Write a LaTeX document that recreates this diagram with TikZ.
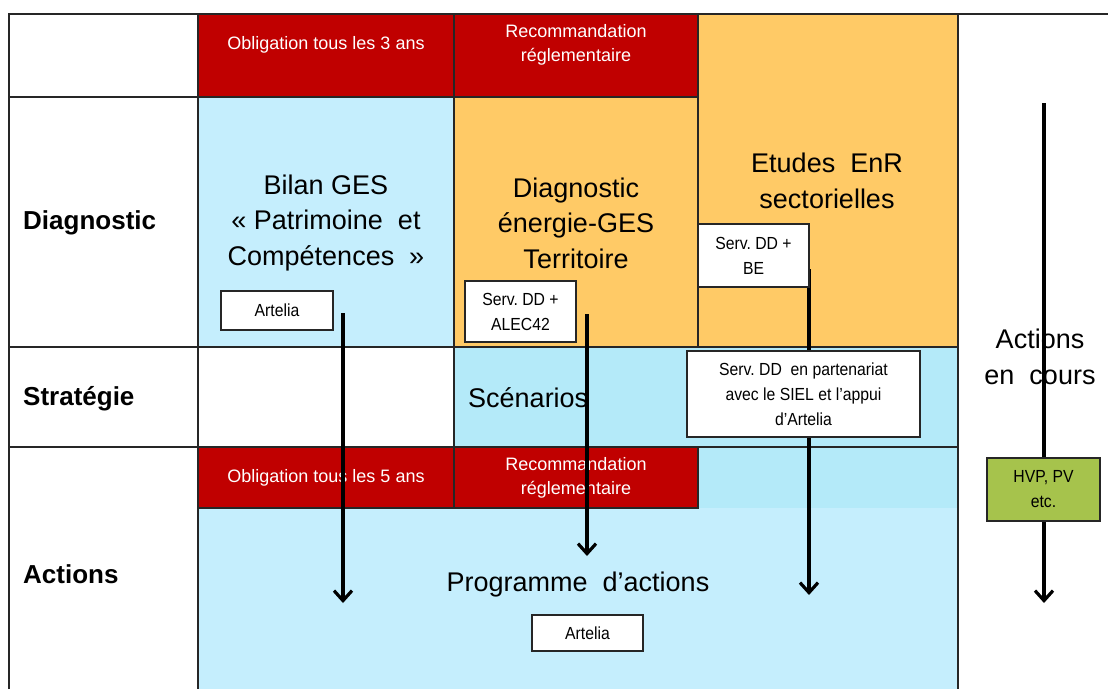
\documentclass[tikz,border=0pt]{standalone}
\usepackage{fontspec}
\setmainfont{Liberation Sans}
\newfontfamily\narrowfont[FakeStretch=0.9]{Liberation Sans}
\usepackage{tikz}
\usetikzlibrary{arrows.meta}
\definecolor{cellred}{HTML}{C00000}
\definecolor{cellorange}{HTML}{FFCA66}
\definecolor{cellblue}{HTML}{C5EEFD}
\definecolor{scenblue}{HTML}{B4EAF9}
\definecolor{cellgreen}{HTML}{A6C34C}
\frenchspacing

\begin{document}
\begin{tikzpicture}[x=1pt, y=-1pt,
    grid/.style = {draw=black!85, line width=1.1pt},
    big/.style = {inner sep=0pt, align=center, font=\fontsize{27}{35.5}\selectfont},
    rowlabel/.style = {inner sep=0pt, anchor=west, font=\fontsize{26}{30}\selectfont\bfseries},
    redtext/.style = {inner sep=0pt, align=center, text=white, font=\fontsize{18}{24}\selectfont},
    who/.style = {draw=black!85, line width=1.1pt, fill=white, inner sep=0pt, align=center,
                  font=\narrowfont\fontsize{17.5}{25}\selectfont},
    flow/.style = {line width=3.2pt, -{Straight Barb[length=10pt, width=18pt]}}]
  \useasboundingbox (0,0) rectangle (1108,689);
  \fill[white] (0,0) rectangle (1108,689);

  % colour fills
  \fill[cellblue] (198,97) rectangle (454,347);
  \fill[cellblue] (198,447) rectangle (958,689);
  \fill[scenblue] (454,347) rectangle (958,508);
  \fill[cellorange] (454,97) rectangle (698,347);
  \fill[cellorange] (698,14) rectangle (958,347);
  \foreach \xa/\ya/\xb/\yb in {198/14/454/97, 454/14/698/97, 198/447/454/508, 454/447/698/508}
    \filldraw[grid, fill=cellred] (\xa,\ya) rectangle (\xb,\yb);

  % grid
  \draw[grid] (9,689) -- (9,14) -- (1108,14);
  \draw[grid] (198,14) -- (198,689);
  \draw[grid] (454,97) -- (454,447);
  \draw[grid] (698,97) -- (698,347);
  \draw[grid] (958,14) -- (958,689);
  \draw[grid] (9,97) -- (698,97);
  \draw[grid] (9,347) -- (958,347);
  \draw[grid] (9,447) -- (958,447);

  % texts
  \node[redtext] (obl3) at (326,45) {Obligation tous les 3 ans};
  \node[redtext] (reco1) at (576,45) {Recommandation\\réglementaire};
  \node[redtext] (obl5) at (326,478) {Obligation tous les 5 ans};
  \node[redtext] (reco2) at (576,478) {Recommandation\\réglementaire};
  \node[big] (bilan) at (326,223) {Bilan GES\\«~Patrimoine~~et\\Compétences~~»};
  \node[big] (diagter) at (576,223) {Diagnostic\\énergie-GES\\Territoire};
  \node[big] (enr) at (827,181) {Etudes~~EnR\\sectorielles};
  \node[big, anchor=west] (scen) at (468,398) {Scénarios};
  \node[big] (prog) at (578,585) {Programme~~d’actions};
  \node[big] (encours) at (1040,357) {Actions\\en~~cours};
  \foreach \t/\y/\n in {Diagnostic/223/diag, Stratégie/399/strat, Actions/574/act}
    \node[rowlabel] (\n) at (23,\y) {\t};

  % arrows
  \foreach \n/\x/\ya/\yb in {1/343/313/603, 2/587/314/556, 3/809/269/595, 4/1044/103/603}{
    \coordinate (top\n) at (\x,\ya);
    \coordinate (tip\n) at (\x,\yb);
    \draw[flow] (top\n) -- (tip\n);
  }

  % who does it
  \node[who, minimum width=112pt, minimum height=39pt] (artelia1) at (277,310.5) {Artelia};
  \node[who, minimum width=111pt, minimum height=61pt] (alec) at (520.5,311.5) {Serv. DD +\\ALEC42};
  \node[who, minimum width=111pt, minimum height=63pt] (be) at (753.5,255.5) {Serv. DD +\\BE};
  \node[who, minimum width=233pt, minimum height=86pt] (siel) at (803.5,394)
    {Serv. DD~~en partenariat\\avec le SIEL et l’appui\\d’Artelia};
  \node[who, minimum width=111pt, minimum height=36pt] (artelia2) at (587.5,633) {Artelia};
  \node[who, fill=cellgreen, minimum width=113pt, minimum height=63pt] (hvp) at (1043.5,489.5) {HVP, PV\\etc.};
\end{tikzpicture}
\end{document}
